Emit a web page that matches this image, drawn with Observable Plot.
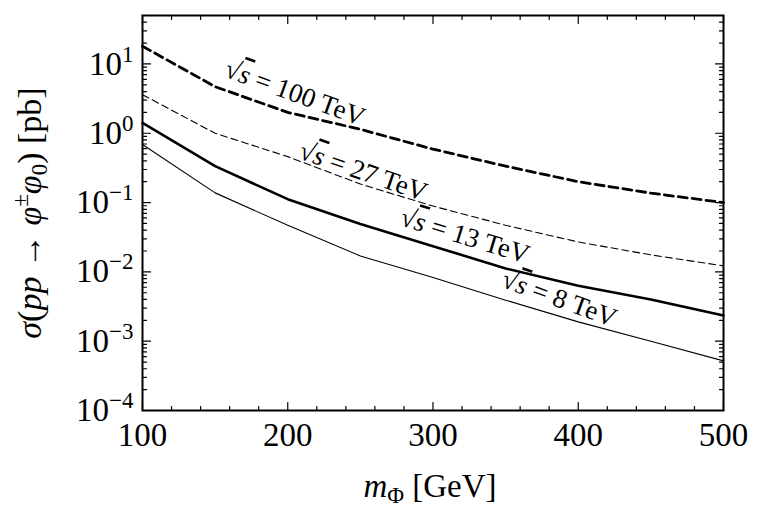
<!DOCTYPE html>
<html>
<head>
<meta charset="utf-8">
<script src="https://cdn.jsdelivr.net/npm/d3@7"></script>
<script src="https://cdn.jsdelivr.net/npm/@observablehq/plot@0.6"></script>
<style>
  html, body { margin: 0; padding: 0; background: #fff; }
  svg { display: block; }
</style>
</head>
<body>
<div id="chart"></div>
<script>
// Scalar mass (GeV) and pp -> phi+- phi0 cross sections (pb) at four collider energies
const masses = [100, 150, 200, 250, 300, 350, 400, 450, 500];
const xs100TeV = [18, 4.7, 2.0, 1.14, 0.59, 0.335, 0.2, 0.137, 0.1];
const xs27TeV = [3.6, 1.0, 0.46, 0.185, 0.089, 0.047, 0.027, 0.0176, 0.0122];
const xs13TeV = [1.41, 0.335, 0.112, 0.049, 0.0235, 0.0112, 0.0063, 0.004, 0.00235];
const xs8TeV = [0.69, 0.138, 0.047, 0.017, 0.0083, 0.0039, 0.0019, 0.001, 0.00052];

// Tick values
const xTickLabels = [100, 200, 300, 400, 500];
const xMinorTicks = [120, 140, 160, 180, 220, 240, 260, 280, 320, 340, 360, 380, 420, 440, 460, 480];
const yTickLabels = [1e-4, 1e-3, 1e-2, 1e-1, 1, 10];
const yMinorTicks = [];
for (let e = -4; e <= 1; e++) {
  for (let k = 2; k <= 9; k++) {
    const v = k * Math.pow(10, e);
    if (v <= 50) yMinorTicks.push(v);
  }
}

// Curve annotations: text and the point (mass, cross section) it is centred on
const labelTexts = ["√s = 100 TeV", "√s = 27 TeV", "√s = 13 TeV", "√s = 8 TeV"];
const labelMass = [205, 252, 322, 387];
const labelXs = [3.8, 0.28, 0.033, 0.0041];
const labelAngle = [20, 19, 17, 20];

const series = (vals) => masses.map((m, i) => ({m, v: vals[i]}));
const labels = labelTexts.map((t, i) => ({t, m: labelMass[i], v: labelXs[i], a: labelAngle[i]}));

const FONT = "'Liberation Serif', 'DejaVu Serif', serif";
const tickShape = {draw(ctx, l) { ctx.moveTo(0, 0); ctx.lineTo(0, -l); }};
const ticks = (data, opts) => Plot.vector(data, {anchor: "start", shape: tickShape, stroke: "black", strokeWidth: 1.2, ...opts});

const chart = Plot.plot({
  width: 764,
  height: 522,
  marginLeft: 142,
  marginRight: 41,
  marginTop: 15,
  marginBottom: 112,
  style: {fontFamily: FONT, fontSize: "33px", color: "black", background: "white"},
  x: {domain: [100, 500]},
  y: {type: "log", domain: [1e-4, 50]},
  marks: [
    // curves
    Plot.line(series(xs100TeV), {x: "m", y: "v", stroke: "black", strokeWidth: 2.8, strokeDasharray: "9,5"}),
    Plot.line(series(xs27TeV), {x: "m", y: "v", stroke: "black", strokeWidth: 1.1, strokeDasharray: "7,4"}),
    Plot.line(series(xs13TeV), {x: "m", y: "v", stroke: "black", strokeWidth: 2.6}),
    Plot.line(series(xs8TeV), {x: "m", y: "v", stroke: "black", strokeWidth: 1.1}),
    // curve labels
    Plot.text(labels, {x: "m", y: "v", text: "t", rotate: "a", fontSize: 27, textAnchor: "middle", fill: "black"}),
    // inward ticks on all four sides
    ticks(xTickLabels, {x: d => d, y: 1e-4, length: 8, rotate: 0}),
    ticks(xMinorTicks, {x: d => d, y: 1e-4, length: 4, rotate: 0}),
    ticks(xTickLabels, {x: d => d, y: 50, length: 8, rotate: 180}),
    ticks(xMinorTicks, {x: d => d, y: 50, length: 4, rotate: 180}),
    ticks(yTickLabels, {y: d => d, x: 100, length: 8, rotate: 90}),
    ticks(yMinorTicks, {y: d => d, x: 100, length: 4, rotate: 90}),
    ticks(yTickLabels, {y: d => d, x: 500, length: 8, rotate: 270}),
    ticks(yMinorTicks, {y: d => d, x: 500, length: 4, rotate: 270}),
    // tick labels
    Plot.axisX(xTickLabels, {tickSize: 0, tickPadding: 12, label: null, fontSize: 33}),
    Plot.axisY(yTickLabels, {tickSize: 0, tickPadding: 9, label: null, fontSize: 33,
      tickFormat: d => `10^${Math.round(Math.log10(d))}`}),
    Plot.frame({stroke: "black", strokeWidth: 2})
  ]
});

document.getElementById("chart").appendChild(chart);
const svg = d3.select(chart);

// powers of ten with raised exponents
svg.selectAll("g[aria-label='y-axis tick label'] text").each(function() {
  const m = /^10\^(-?\d+)$/.exec(this.textContent);
  if (!m) return;
  const exp = m[1].replace("-", "\u2212");
  const t = d3.select(this);
  t.text("10");
  t.append("tspan").attr("dy", "-13").attr("font-size", "23").text(exp);
});

// italic s under the radical in the curve labels
svg.selectAll("g[aria-label='text'] text").each(function() {
  const txt = this.textContent;
  if (!txt.startsWith("√s")) return;
  const t = d3.select(this);
  t.text("√");
  t.append("tspan").attr("font-style", "italic").style("text-decoration", "overline").text("s");
  t.append("tspan").text(txt.slice(2));
});

// axis titles
const xt = svg.append("text")
  .attr("x", 430).attr("y", 497)
  .attr("text-anchor", "middle")
  .attr("font-family", FONT).attr("font-size", 33).attr("fill", "black");
xt.append("tspan").attr("font-style", "italic").text("m");
xt.append("tspan").attr("dy", 6).attr("font-size", 23).text("Φ");
xt.append("tspan").attr("dy", -6).text(" [GeV]");

const yt = svg.append("text")
  .attr("transform", "translate(41,213) rotate(-90)")
  .attr("text-anchor", "middle")
  .attr("font-family", FONT).attr("font-size", 34).attr("fill", "black");
yt.append("tspan").attr("font-style", "italic").text("σ");
yt.append("tspan").text("(");
yt.append("tspan").attr("font-style", "italic").text("pp");
yt.append("tspan").text(" → ");
yt.append("tspan").attr("font-style", "italic").text("φ");
yt.append("tspan").attr("dy", -13).attr("font-size", 23).text("±");
yt.append("tspan").attr("dy", 13).attr("font-style", "italic").text("φ");
yt.append("tspan").attr("dy", 6).attr("font-size", 23).text("0");
yt.append("tspan").attr("dy", -6).text(") [pb]");
</script>
</body>
</html>
